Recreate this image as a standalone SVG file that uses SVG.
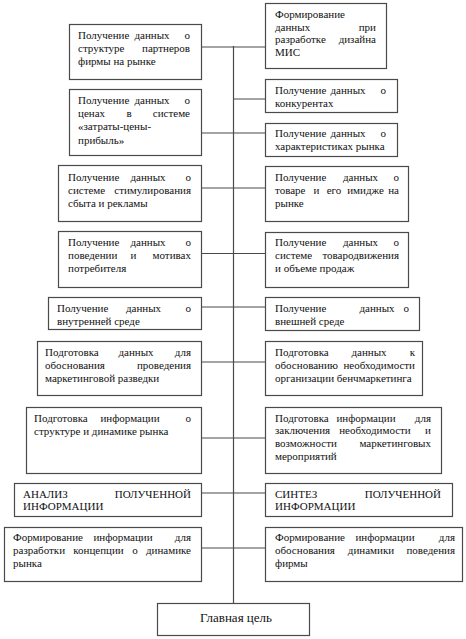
<svg xmlns="http://www.w3.org/2000/svg" width="466" height="639" viewBox="0 0 466 639" font-family="'Liberation Serif', 'DejaVu Serif', serif">
<style>
.box{fill:#fff;stroke:#4a4a4a;stroke-width:1.2}
.ln{fill:none;stroke:#4a4a4a;stroke-width:1.2}
.t text{font-family:'Liberation Serif','DejaVu Serif',serif;font-size:11px;fill:#111}
.e{text-anchor:end}
.m{text-anchor:middle}
.t text.big{font-size:13px}
</style>
<rect width="466" height="639" fill="#fff"/>
<g id="connectors">
<path class="ln" d="M233.5 46V603.5"/>
<path class="ln" d="M201 47H233.5M233.5 47H265M233.5 99H265M201 133H265M201 188H265M201 253.5H265M201 307H265M201 362H265M201 438H265M201 493H265M201 548H265"/>
</g>
<g class="t">
<g id="n-l1"><rect class="box" x="69.5" y="24.5" width="132" height="55"/>
<text x="78" y="38.5">Получение</text><text class="m" x="152" y="38.5">данных</text><text class="e" x="190" y="38.5">о</text>
<text x="78" y="51.5">структуре</text><text class="e" x="190" y="51.5">партнеров</text>
<text x="78" y="65">фирмы на рынке</text></g>
<g id="n-l2"><rect class="box" x="69.5" y="89.5" width="132" height="66"/>
<text x="78" y="103.5">Получение</text><text class="m" x="152" y="103.5">данных</text><text class="e" x="190" y="103.5">о</text>
<text x="78" y="117">ценах</text><text class="m" x="129" y="117">в</text><text class="e" x="190" y="117">системе</text>
<text x="78" y="130">«затраты-цены-</text>
<text x="78" y="143.5">прибыль»</text></g>
<g id="n-r1"><rect class="box" x="265.5" y="3.5" width="121" height="65"/>
<text x="275" y="18">Формирование</text>
<text x="275" y="30.5">данных</text><text class="e" x="376" y="30.5">при</text>
<text x="275" y="43">разработке</text><text class="e" x="376" y="43">дизайна</text>
<text x="275" y="55.5">МИС</text></g>
<g id="n-r2"><rect class="box" x="265.5" y="79.5" width="132" height="33"/>
<text x="275" y="93.5">Получение</text><text class="m" x="348" y="93.5">данных</text><text class="e" x="386" y="93.5">о</text>
<text x="275" y="106.5">конкурентах</text></g>
<g id="n-r3"><rect class="box" x="265.5" y="123.5" width="132" height="33"/>
<text x="275" y="137">Получение</text><text class="m" x="348" y="137">данных</text><text class="e" x="386" y="137">о</text>
<text x="275" y="150">характеристиках рынка</text></g>
<g id="n-l3"><rect class="box" x="58.5" y="165.5" width="143" height="56"/>
<text x="68" y="180.5">Получение</text><text class="m" x="148" y="180.5">данных</text><text class="e" x="191" y="180.5">о</text>
<text x="68" y="194">системе</text><text class="e" x="191" y="194">стимулирования</text>
<text x="68" y="207">сбыта и рекламы</text></g>
<g id="n-l4"><rect class="box" x="58.5" y="231.5" width="143" height="56"/>
<text x="68" y="245.5">Получение</text><text class="m" x="148" y="245.5">данных</text><text class="e" x="191" y="245.5">о</text>
<text x="68" y="259">поведении</text><text class="m" x="133.5" y="259">и</text><text class="e" x="191" y="259">мотивах</text>
<text x="68" y="272">потребителя</text></g>
<g id="n-l5"><rect class="box" x="48.5" y="297.5" width="153" height="32"/>
<text x="57" y="311.5">Получение</text><text class="m" x="143.5" y="311.5">данных</text><text class="e" x="191" y="311.5">о</text>
<text x="57" y="325">внутренней среде</text></g>
<g id="n-r4"><rect class="box" x="265.5" y="166.5" width="143" height="55"/>
<text x="275" y="180.5">Получение</text><text class="m" x="360.5" y="180.5">данных</text><text class="e" x="399" y="180.5">о</text>
<text x="275" y="193.5">товаре</text><text class="m" x="316.5" y="193.5">и</text><text class="m" x="334" y="193.5">его</text><text class="m" x="365.5" y="193.5">имидже</text><text class="e" x="399" y="193.5">на</text>
<text x="275" y="207">рынке</text></g>
<g id="n-r5"><rect class="box" x="265.5" y="232.5" width="143" height="55"/>
<text x="275" y="245.5">Получение</text><text class="m" x="360.5" y="245.5">данных</text><text class="e" x="399" y="245.5">о</text>
<text x="275" y="258.5">системе</text><text class="e" x="399" y="258.5">товародвижения</text>
<text x="275" y="272">и объеме продаж</text></g>
<g id="n-r6"><rect class="box" x="265.5" y="297.5" width="154" height="33"/>
<text x="275" y="311.5">Получение</text><text class="m" x="377" y="311.5">данных</text><text class="e" x="409" y="311.5">о</text>
<text x="275" y="325">внешней среде</text></g>
<g id="n-l6"><rect class="box" x="37.5" y="341.5" width="164" height="54"/>
<text x="45" y="355.5">Подготовка</text><text class="m" x="136" y="355.5">данных</text><text class="e" x="191" y="355.5">для</text>
<text x="45" y="368.5">обоснования</text><text class="e" x="191" y="368.5">проведения</text>
<text x="45" y="381.5">маркетинговой разведки</text></g>
<g id="n-l7"><rect class="box" x="26.5" y="407.5" width="175" height="66"/>
<text x="34" y="421.5">Подготовка</text><text class="m" x="130" y="421.5">информации</text><text class="e" x="191" y="421.5">о</text>
<text x="34" y="434.5">структуре и динамике рынка</text></g>
<g id="n-r7"><rect class="box" x="265.5" y="341.5" width="157" height="54"/>
<text x="275" y="355.5">Подготовка</text><text class="m" x="369" y="355.5">данных</text><text class="e" x="415" y="355.5">к</text>
<text x="275" y="368.5">обоснованию</text><text class="e" x="415" y="368.5">необходимости</text>
<text x="275" y="381.5">организации бенчмаркетинга</text></g>
<g id="n-r8"><rect class="box" x="265.5" y="407.5" width="176" height="66"/>
<text x="275" y="421.5">Подготовка</text><text class="m" x="366" y="421.5">информации</text><text class="e" x="431" y="421.5">для</text>
<text x="275" y="434">заключения</text><text class="m" x="375" y="434">необходимости</text><text class="e" x="431" y="434">и</text>
<text x="275" y="446.5">возможности</text><text class="e" x="431" y="446.5">маркетинговых</text>
<text x="275" y="459.5">мероприятий</text></g>
<g id="n-l9"><rect class="box" x="14.5" y="483.5" width="187" height="33"/>
<text x="23" y="497.5">АНАЛИЗ</text><text class="e" x="191" y="497.5">ПОЛУЧЕННОЙ</text>
<text x="23" y="510">ИНФОРМАЦИИ</text></g>
<g id="n-l10"><rect class="box" x="4.5" y="527.5" width="197" height="54"/>
<text x="13" y="540.5">Формирование</text><text class="m" x="123" y="540.5">информации</text><text class="e" x="191" y="540.5">для</text>
<text x="13" y="554">разработки</text><text class="m" x="98.5" y="554">концепции</text><text class="m" x="135" y="554">о</text><text class="e" x="191" y="554">динамике</text>
<text x="13" y="567">рынка</text></g>
<g id="n-r9"><rect class="box" x="265.5" y="483.5" width="187" height="33"/>
<text x="275" y="497.5">СИНТЕЗ</text><text class="e" x="441" y="497.5">ПОЛУЧЕННОЙ</text>
<text x="275" y="510">ИНФОРМАЦИИ</text></g>
<g id="n-r10"><rect class="box" x="265.5" y="527.5" width="197" height="54"/>
<text x="275" y="540.5">Формирование</text><text class="m" x="385" y="540.5">информации</text><text class="e" x="455" y="540.5">для</text>
<text x="275" y="554">обоснования</text><text class="m" x="371" y="554">динамики</text><text class="e" x="455" y="554">поведения</text>
<text x="275" y="567">фирмы</text></g>
<g id="n-main"><rect class="box" x="157.5" y="603.5" width="152" height="32"/>
<text class="m big" x="236" y="622">Главная цель</text></g>
</g>
</svg>
